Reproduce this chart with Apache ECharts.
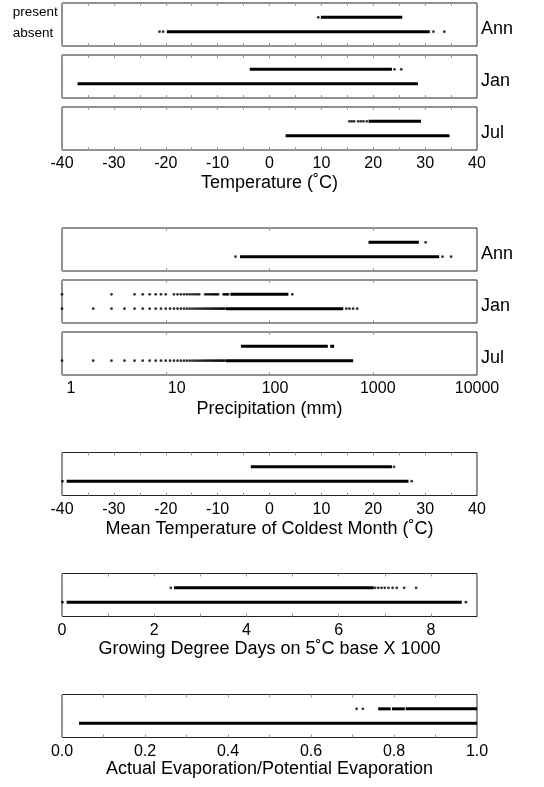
<!DOCTYPE html>
<html>
<head>
<meta charset="utf-8">
<script src="https://cdn.jsdelivr.net/npm/echarts@6/dist/echarts.min.js"></script>
<style>html,body{margin:0;padding:0;background:#fff}#chart{width:544px;height:787px}</style>
</head>
<body>
<div id="chart"></div>
<script>
// ---------------- DATA ----------------
// Dots = isolated observations; runs = [start, end] of dense continuous stretches.
// Temperature (°C)
const tempAnnPresentDots = [9.4];
const tempAnnPresentRuns = [[9.9, 25.6]];
const tempAnnAbsentDots = [-21.2, -20.5, 31.6, 33.7];
const tempAnnAbsentRuns = [[-19.8, 30.9]];
const tempJanPresentDots = [24.1, 25.4];
const tempJanPresentRuns = [[-3.8, 23.6]];
const tempJanAbsentDots = [];
const tempJanAbsentRuns = [[-37.0, 28.6]];
const tempJulPresentDots = [15.4, 15.85, 16.3, 17.1, 17.6, 18.1, 18.75];
const tempJulPresentRuns = [[19.1, 29.2]];
const tempJulAbsentDots = [];
const tempJulAbsentRuns = [[3.1, 34.7]];
// Precipitation (mm)
const precAnnPresentDots = [3200];
const precAnnPresentRuns = [[900, 2750]];
const precAnnAbsentDots = [47, 4650, 5630];
const precAnnAbsentRuns = [[52, 4320]];
const precJanPresentDots = [1, 3, 5, 6, 7, 8, 9, 10, 12, 13, 14, 15, 16, 17, 18, 19, 20, 21,
  24, 25, 26, 27, 28, 29, 30, 31, 32, 36, 37, 38, 39, 40, 166];
const precJanPresentRuns = [[42, 152]];
const precJanAbsentDots = [1, 2, 3, 4, 5, 6, 7, 8, 9, 10, 11, 12, 13, 14, 15, 16, 17, 18,
  19, 20, 21, 22, 23, 24, 25, 26, 27, 28, 29, 30, 31, 32, 33, 34, 35, 36, 37, 550, 590, 640, 700];
const precJanAbsentRuns = [[38, 514]];
const precJulPresentDots = [];
const precJulPresentRuns = [[53, 365], [385, 420]];
const precJulAbsentDots = [1, 2, 3, 4, 5, 6, 7, 8, 9, 10, 11, 12, 13, 14, 15, 16, 17, 18,
  19, 20, 21, 22, 23, 24, 25, 26, 27, 28, 29, 30, 31, 32, 33, 34, 35, 36, 37];
const precJulAbsentRuns = [[38, 640]];
// Mean temperature of coldest month (°C)
const coldPresentDots = [24.0];
const coldPresentRuns = [[-3.6, 23.6]];
const coldAbsentDots = [-39.9, 27.4];
const coldAbsentRuns = [[-39.1, 26.8]];
// Growing degree days (x1000)
const gddPresentDots = [2.36, 6.79, 6.86, 6.93, 7.0, 7.08, 7.17, 7.26, 7.42, 7.68];
const gddPresentRuns = [[2.43, 6.76]];
const gddAbsentDots = [0.01, 8.76];
const gddAbsentRuns = [[0.1, 8.67]];
// AE/PE
const aePresentDots = [0.71, 0.725];
const aePresentRuns = [[0.762, 0.792], [0.795, 0.826], [0.828, 1.0]];
const aeAbsentDots = [];
const aeAbsentRuns = [[0.041, 1.0]];

// Labels
const rowLabels = ['present', 'absent'];
const monthLabels = ['Ann', 'Jan', 'Jul'];
const axisTitles = ['Temperature (˚C)', 'Precipitation (mm)', 'Mean Temperature of Coldest Month (˚C)',
  'Growing Degree Days on 5˚C base X 1000', 'Actual Evaporation/Potential Evaporation'];

// ---------------- LAYOUT ----------------
const FONT = '"Liberation Sans", Arial, Helvetica, sans-serif';
const LEFT = 62, WIDTH = 415, HEIGHT = 43;

const axisDefs = {
  temp: { type: 'value', min: -40, max: 40, interval: 5,
    formatter: v => (Math.round(v) % 10 === 0 ? String(Math.round(v)) : '') },
  prec: { type: 'log', logBase: 10, min: 1, max: 10000,
    formatter: v => { const r = Math.round(v); return '{p' + r + '|' + r + '}'; } },
  gdd: { type: 'value', min: 0, max: 9, interval: 1,
    formatter: v => (Math.round(v) % 2 === 0 ? String(Math.round(v)) : '') },
  ae: { type: 'value', min: 0, max: 1, interval: 0.1,
    formatter: v => (Math.round(v * 10) % 2 === 0 ? v.toFixed(1) : '') }
};

const panels = [
  { top: 3, axis: 'temp', label: monthLabels[0], showLabels: false, p: [tempAnnPresentDots, tempAnnPresentRuns], a: [tempAnnAbsentDots, tempAnnAbsentRuns] },
  { top: 55, axis: 'temp', label: monthLabels[1], showLabels: false, p: [tempJanPresentDots, tempJanPresentRuns], a: [tempJanAbsentDots, tempJanAbsentRuns] },
  { top: 107, axis: 'temp', label: monthLabels[2], showLabels: true, title: axisTitles[0], titleY: 183, p: [tempJulPresentDots, tempJulPresentRuns], a: [tempJulAbsentDots, tempJulAbsentRuns] },
  { top: 228, axis: 'prec', label: monthLabels[0], showLabels: false, p: [precAnnPresentDots, precAnnPresentRuns], a: [precAnnAbsentDots, precAnnAbsentRuns] },
  { top: 280, axis: 'prec', label: monthLabels[1], showLabels: false, p: [precJanPresentDots, precJanPresentRuns], a: [precJanAbsentDots, precJanAbsentRuns] },
  { top: 332, axis: 'prec', label: monthLabels[2], showLabels: true, title: axisTitles[1], titleY: 409, p: [precJulPresentDots, precJulPresentRuns], a: [precJulAbsentDots, precJulAbsentRuns] },
  { top: 452.5, axis: 'temp', showLabels: true, title: axisTitles[2], titleY: 529.5, p: [coldPresentDots, coldPresentRuns], a: [coldAbsentDots, coldAbsentRuns] },
  { top: 573.5, axis: 'gdd', showLabels: true, title: axisTitles[3], titleY: 649.5, p: [gddPresentDots, gddPresentRuns], a: [gddAbsentDots, gddAbsentRuns] },
  { top: 694.5, axis: 'ae', showLabels: true, title: axisTitles[4], titleY: 769.5, p: [aePresentDots, aePresentRuns], a: [aeAbsentDots, aeAbsentRuns] }
];

const precRich = {
  p1: { padding: [0, 0, 0, 18] }, p10: { padding: [0, 0, 0, 22] }, p100: { padding: [0, 0, 0, 11] },
  p1000: { padding: [0, 0, 0, 9] }, p10000: {}
};
Object.keys(precRich).forEach(k => { precRich[k].fontSize = 16; precRich[k].fontFamily = FONT; precRich[k].color = '#000'; });

const grid = [], xAxis = [], yAxis = [], series = [], graphic = [];

panels.forEach((pn, i) => {
  grid.push({ left: LEFT, top: pn.top, width: WIDTH, height: HEIGHT, show: true,
    borderColor: '#222', borderWidth: 1, backgroundColor: 'transparent' });
  const def = axisDefs[pn.axis];
  ['bottom', 'top'].forEach(pos => {
    const ax = {
      gridIndex: i, type: def.type, position: pos, min: def.min, max: def.max,
      axisLine: { show: false },
      axisTick: { show: true, inside: true, length: 3, lineStyle: { color: '#999', width: 1 } },
      splitLine: { show: false },
      axisLabel: { show: pos === 'bottom' && pn.showLabels, formatter: def.formatter, fontSize: 16,
        fontFamily: FONT, color: '#000', margin: 6, showMinLabel: true, showMaxLabel: true,
        rich: pn.axis === 'prec' ? precRich : undefined }
    };
    if (def.interval) ax.interval = def.interval;
    if (def.logBase) ax.logBase = def.logBase;
    xAxis.push(ax);
  });
  yAxis.push({ gridIndex: i, type: 'value', min: 0, max: 3, show: false });

  [[pn.p, 2], [pn.a, 1]].forEach(([rowData, y]) => {
    const [dots, runs] = rowData;
    runs.forEach(r => {
      series.push({ type: 'line', xAxisIndex: 2 * i, yAxisIndex: i, data: [[r[0], y], [r[1], y]],
        symbol: 'none', silent: true, lineStyle: { color: '#000', width: 3, cap: 'butt' } });
    });
    if (dots.length) {
      series.push({ type: 'scatter', xAxisIndex: 2 * i, yAxisIndex: i, data: dots.map(v => [v, y]),
        symbol: 'circle', symbolSize: 2.8, silent: true, itemStyle: { color: '#000' } });
    }
  });

  if (pn.label) {
    graphic.push({ type: 'text', x: 481, y: pn.top + 26.5,
      style: { text: pn.label, fontSize: 18, fontFamily: FONT, fill: '#000', align: 'left', verticalAlign: 'middle' } });
  }
  if (pn.title) {
    graphic.push({ type: 'text', x: LEFT + WIDTH / 2, y: pn.titleY,
      style: { text: pn.title, fontSize: 18, fontFamily: FONT, fill: '#000', align: 'center', verticalAlign: 'middle' } });
  }
});

graphic.push({ type: 'text', x: 12.7, y: 12.3,
  style: { text: rowLabels[0], fontSize: 13.5, fontFamily: FONT, fill: '#000', align: 'left', verticalAlign: 'middle' } });
graphic.push({ type: 'text', x: 12.7, y: 33,
  style: { text: rowLabels[1], fontSize: 13.5, fontFamily: FONT, fill: '#000', align: 'left', verticalAlign: 'middle' } });

const chart = echarts.init(document.getElementById('chart'), null, { renderer: 'canvas' });
chart.setOption({
  animation: false,
  backgroundColor: '#fff',
  grid, xAxis, yAxis, series, graphic
});
</script>
</body>
</html>
